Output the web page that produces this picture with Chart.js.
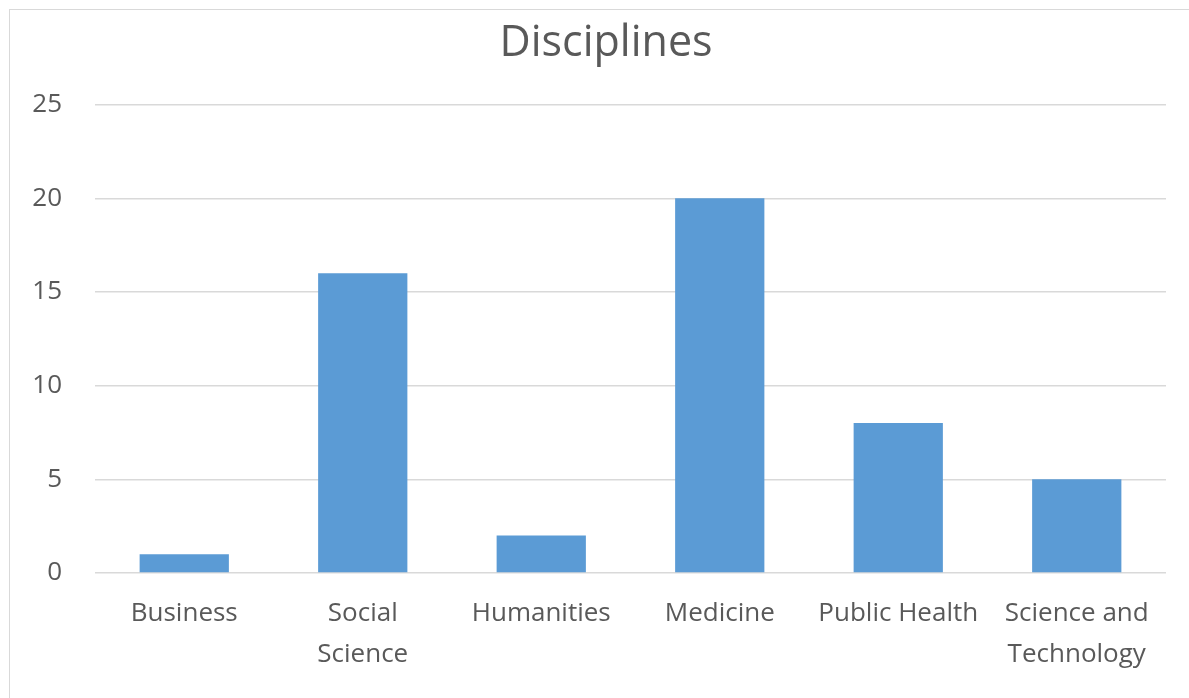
<!DOCTYPE html>
<html>
<head>
<meta charset="utf-8">
<script src="https://cdn.jsdelivr.net/npm/chart.js@4/dist/chart.umd.min.js"></script>
<style>
  html, body { margin: 0; padding: 0; background: #fff; overflow: hidden; }
  #frame {
    position: absolute; left: 9px; top: 9px;
    width: 1200px; height: 720px;
    border: 1px solid #d9d9d9;
  }
  #wrap { position: absolute; left: 0; top: 0; width: 1212px; height: 698px; }
</style>
</head>
<body>
<div id="frame"></div>
<div id="wrap"><canvas id="myChart" width="1212" height="698"></canvas></div>
<script>
const categories = [
  'Business',
  ['Social', 'Science'],
  'Humanities',
  'Medicine',
  'Public Health',
  ['Science and', 'Technology']
];
const counts = [1, 16, 2, 20, 8, 5];
const yTicks = [0, 5, 10, 15, 20, 25];

const textColor = '#595959';
const gridColor = '#d9d9d9';
const fontFamily = "'Open Sans', 'Noto Sans', sans-serif";

var ctx = document.getElementById('myChart').getContext('2d');

var chart = new Chart(ctx, {
  type: 'bar',
  data: {
    labels: categories,
    datasets: [{
      label: 'Disciplines',
      data: counts,
      backgroundColor: '#5b9bd5',
      borderWidth: 0,
      categoryPercentage: 1.0,
      barPercentage: 0.5
    }]
  },
  options: {
    responsive: false,
    animation: false,
    layout: { padding: 0 },
    plugins: {
      legend: { display: false },
      tooltip: { enabled: false },
      title: {
        display: true,
        text: 'Disciplines',
        color: textColor,
        font: { family: fontFamily, size: 43, weight: 'normal', lineHeight: 1.2 },
        padding: { top: 18, bottom: 35 }
      }
    },
    scales: {
      x: {
        grid: { display: false },
        border: { display: false },
        ticks: {
          color: textColor,
          font: { family: fontFamily, size: 26, lineHeight: 1.58 },
          padding: 12,
          maxRotation: 0,
          autoSkip: false
        },
        afterFit: function(scale) { scale.height = 125; }
      },
      y: {
        min: 0,
        max: 25,
        afterBuildTicks: function(scale) {
          scale.ticks = yTicks.map(v => ({ value: v }));
        },
        grid: { color: gridColor, lineWidth: 1.5, drawTicks: false },
        border: { display: false },
        ticks: {
          color: textColor,
          font: { family: fontFamily, size: 26 },
          padding: 33
        },
        afterFit: function(scale) { scale.width = 95; }
      },
      // empty right-hand margin so the plot stops short of the frame
      yRight: {
        position: 'right',
        grid: { display: false },
        border: { display: false },
        ticks: { display: false },
        afterFit: function(scale) { scale.width = 46; }
      }
    }
  }
});
</script>
</body>
</html>
